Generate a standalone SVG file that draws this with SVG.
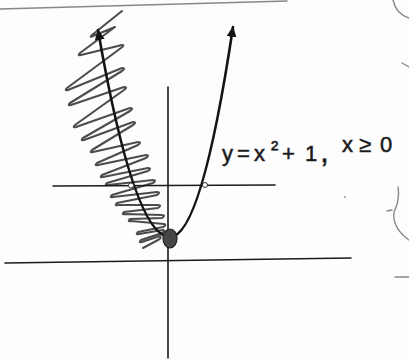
<svg xmlns="http://www.w3.org/2000/svg" width="409" height="360" viewBox="0 0 409 360">
<defs>
<style>
.axis{stroke:#1a1a1a;stroke-width:1.6;fill:none;stroke-linecap:round}
.curve{stroke:#141414;stroke-width:2.6;fill:none;stroke-linecap:round}
.hatch{stroke:#4d4d4d;stroke-width:2.1;fill:none;stroke-linejoin:round;stroke-linecap:round}
.faint{stroke:#888;stroke-width:1.4;fill:none;stroke-linecap:round}
.lbl{font-family:"Liberation Sans",Arial,sans-serif;fill:#1a1a1a;stroke:#1a1a1a;stroke-width:0.5}
.pt{fill:#fff;stroke:#333;stroke-width:1}
</style>
<marker id="arr" markerUnits="userSpaceOnUse" markerWidth="12" markerHeight="10" refX="10" refY="5" orient="auto">
<path d="M0,0 L11,5 L0,10 z" fill="#141414"/>
</marker>
</defs>
<rect width="409" height="360" fill="#fdfdfd"/>
<g id="scan-marks">
<path class="faint" d="M0,9 L287,1" stroke="#999" stroke-width="2.2"/>
<path class="faint" d="M393,0 Q396,14 409,18"/>
<path class="faint" d="M402,63 L409,67"/>
<path class="faint" d="M398,187 Q400,200 394,212 Q392,228 409,240"/>
<path class="faint" d="M387,211 L392,210"/>
<path class="faint" d="M395,277 L409,277" stroke="#666" stroke-width="2"/>
<circle cx="345" cy="197" r="1" fill="#999"/>
</g>
<g id="hatching">
<path class="hatch" d="M122,11 L92,35 Q89,38 93,36 L115,27 L80,53 Q77,56 81,55 L122,45 Q125,45 121,48 L67,88 Q64,91 68,90 L122,68 Q126,68 122,71 L70,103 Q67,106 71,105 L124,87 Q128,87 124,90 L75,125 Q72,128 76,127 L130,108 Q134,108 130,111 L83,138 Q80,141 84,140 L133,122 Q137,122 133,125 L92,150 Q89,153 93,152 L138,142 Q142,142 138,145 L97,163 Q94,166 98,165 L146,155 Q150,155 146,158 L102,175 Q99,178 103,177 L148,168 Q152,168 148,171 L107,183 Q104,186 108,185 L153,180 Q157,180 153,183 L112,195 Q109,198 113,197 L157,192 Q161,192 157,195 L117,203 Q114,206 118,205 L158,205 Q162,205 158,208 L124,212 Q121,215 125,214 L162,215 Q166,215 162,218 L130,219 Q127,222 131,221 L164,224 Q167,225 163,227 L138,232 Q135,235 139,234 L163,230 Q166,231 162,233 L141,240 Q138,243 142,242 L160,236 Q162,238 158,240 L143,248"/>
</g>
<g id="axes">
<line class="axis" x1="168" y1="87" x2="168" y2="358"/>
<line class="axis" x1="5" y1="263" x2="351" y2="258"/>
<line class="axis" x1="53" y1="186" x2="275" y2="185" stroke-width="1.3"/>
</g>
<g id="parabola">
<path class="curve" d="M170,237 Q134,237 98,30" marker-end="url(#arr)"/>
<path class="curve" d="M170,237 Q201.5,237 233,27" marker-end="url(#arr)"/>
</g>
<g id="points">
<circle class="pt" cx="131" cy="185.5" r="2.5"/>
<circle class="pt" cx="205" cy="185" r="2.5"/>
<ellipse id="vertex" cx="170" cy="238.5" rx="7" ry="9.5" fill="#474747" stroke="#222" stroke-width="1.2"/>
</g>
<g id="label">
<text class="lbl" font-size="22" x="222 237 254 271 282 305" y="161 161 161 156 161 161">y=x²+1</text>
<text class="lbl" font-size="32" x="320" y="162" stroke-width="0">,</text>
<text class="lbl" font-size="22" x="342 359 380" y="152">x≥0</text>
</g>
</svg>
